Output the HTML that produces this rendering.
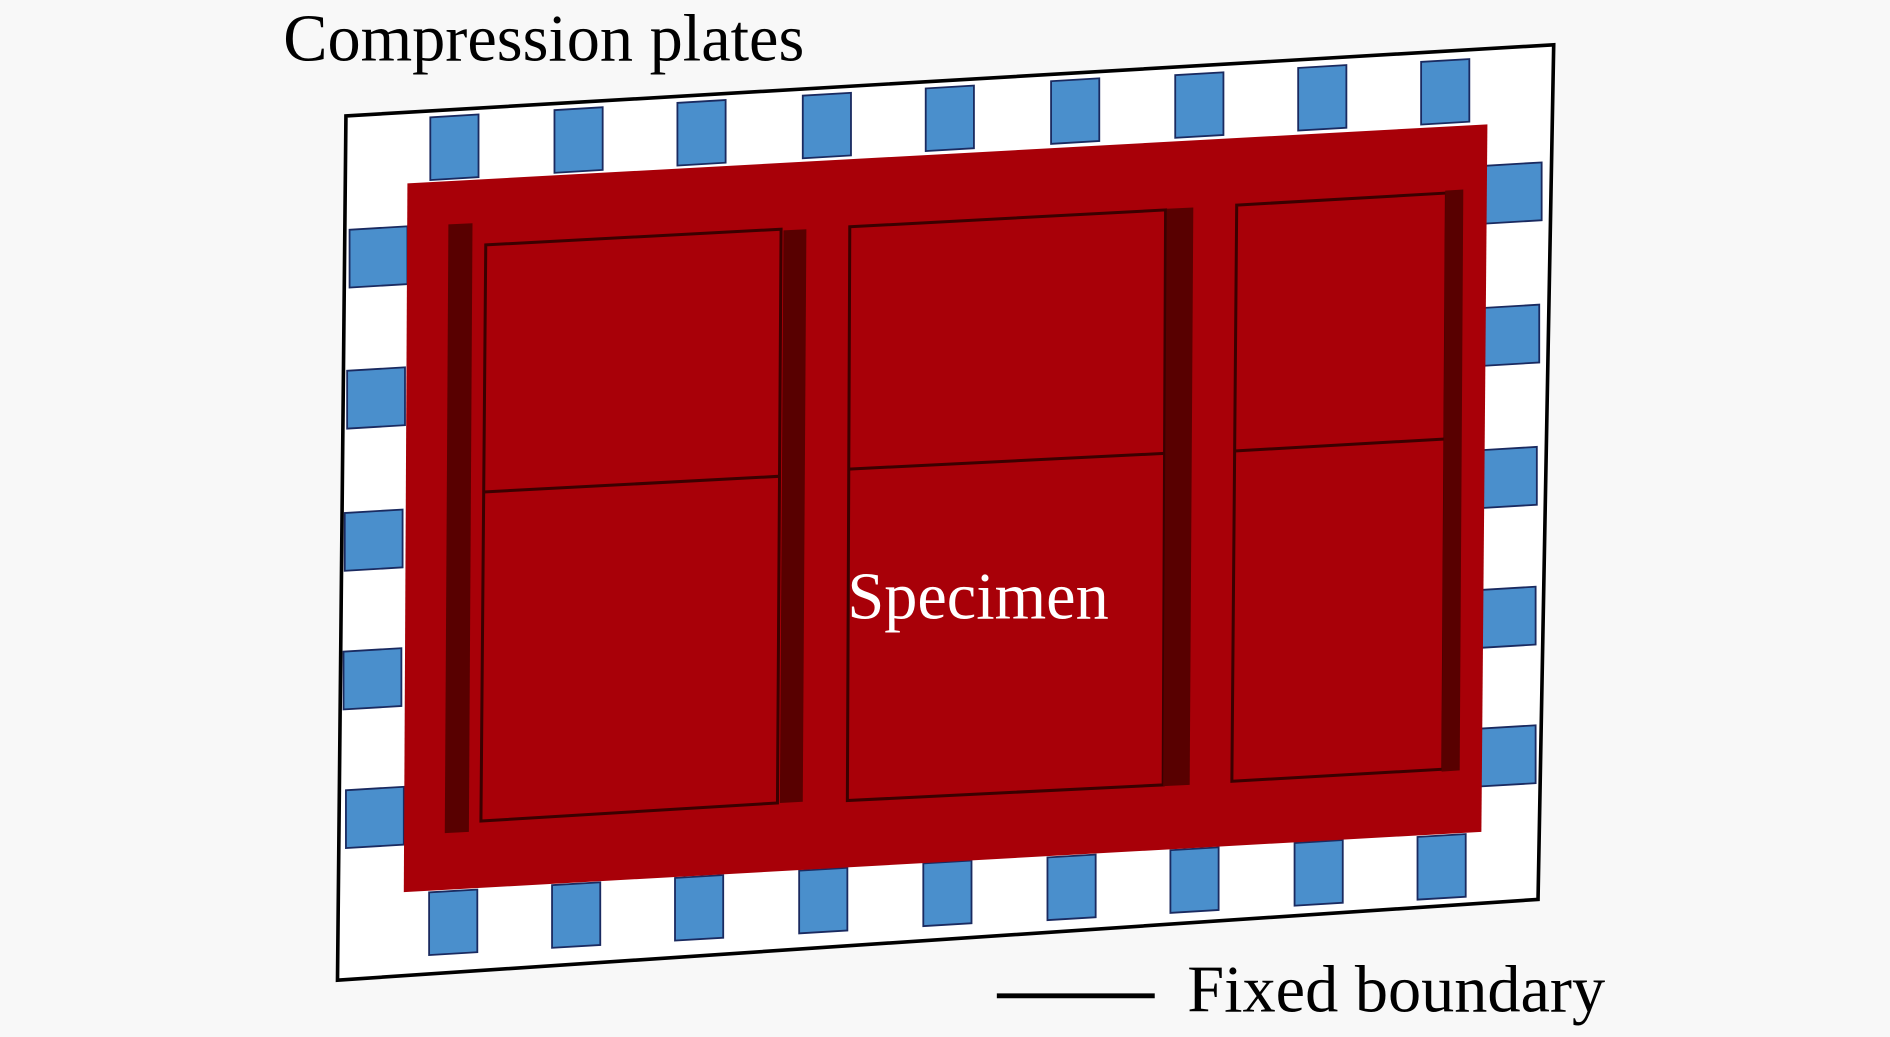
<!DOCTYPE html>
<html><head><style>html,body{margin:0;padding:0;background:#f8f8f8;}svg{display:block}</style></head>
<body>
<svg width="1890" height="1037" viewBox="0 0 1568 860" xmlns="http://www.w3.org/2000/svg">
<rect width="1568" height="860" fill="#f8f8f8"/>
<polygon points="287,96 1289,37 1276,746 280,813" fill="#fff" stroke="#000" stroke-width="3"/>
<g fill="#4a8fcc" stroke="#1a2a60" stroke-width="1.5">
<g transform="translate(377,122) skewY(-3.4)"><rect x="-20" y="-26" width="40" height="52"/></g>
<g transform="translate(480,116) skewY(-3.4)"><rect x="-20" y="-26" width="40" height="52"/></g>
<g transform="translate(582,110) skewY(-3.4)"><rect x="-20" y="-26" width="40" height="52"/></g>
<g transform="translate(686,104) skewY(-3.4)"><rect x="-20" y="-26" width="40" height="52"/></g>
<g transform="translate(788,98) skewY(-3.4)"><rect x="-20" y="-26" width="40" height="52"/></g>
<g transform="translate(892,92) skewY(-3.4)"><rect x="-20" y="-26" width="40" height="52"/></g>
<g transform="translate(995,87) skewY(-3.4)"><rect x="-20" y="-26" width="40" height="52"/></g>
<g transform="translate(1097,81) skewY(-3.4)"><rect x="-20" y="-26" width="40" height="52"/></g>
<g transform="translate(1199,76) skewY(-3.4)"><rect x="-20" y="-26" width="40" height="52"/></g>
<g transform="translate(376,765) skewY(-3.4)"><rect x="-20" y="-26" width="40" height="52"/></g>
<g transform="translate(478,759) skewY(-3.4)"><rect x="-20" y="-26" width="40" height="52"/></g>
<g transform="translate(580,753) skewY(-3.4)"><rect x="-20" y="-26" width="40" height="52"/></g>
<g transform="translate(683,747) skewY(-3.4)"><rect x="-20" y="-26" width="40" height="52"/></g>
<g transform="translate(786,741) skewY(-3.4)"><rect x="-20" y="-26" width="40" height="52"/></g>
<g transform="translate(889,736) skewY(-3.4)"><rect x="-20" y="-26" width="40" height="52"/></g>
<g transform="translate(991,730) skewY(-3.4)"><rect x="-20" y="-26" width="40" height="52"/></g>
<g transform="translate(1094,724) skewY(-3.4)"><rect x="-20" y="-26" width="40" height="52"/></g>
<g transform="translate(1196,719) skewY(-3.4)"><rect x="-20" y="-26" width="40" height="52"/></g>
<g transform="translate(314,213) skewY(-3.4)"><rect x="-24" y="-24" width="48" height="48"/></g>
<g transform="translate(312,330) skewY(-3.4)"><rect x="-24" y="-24" width="48" height="48"/></g>
<g transform="translate(310,448) skewY(-3.4)"><rect x="-24" y="-24" width="48" height="48"/></g>
<g transform="translate(309,563) skewY(-3.4)"><rect x="-24" y="-24" width="48" height="48"/></g>
<g transform="translate(311,678) skewY(-3.4)"><rect x="-24" y="-24" width="48" height="48"/></g>
<g transform="translate(1255,160) skewY(-3.4)"><rect x="-24" y="-24" width="48" height="48"/></g>
<g transform="translate(1253,278) skewY(-3.4)"><rect x="-24" y="-24" width="48" height="48"/></g>
<g transform="translate(1251,396) skewY(-3.4)"><rect x="-24" y="-24" width="48" height="48"/></g>
<g transform="translate(1250,512) skewY(-3.4)"><rect x="-24" y="-24" width="48" height="48"/></g>
<g transform="translate(1250,627) skewY(-3.4)"><rect x="-24" y="-24" width="48" height="48"/></g>
</g>
<polygon points="338,152 1234,103 1229,690 335,740" fill="#a80008"/>
<g fill="#a80008" stroke="#3a0000" stroke-width="2.5">
<polygon points="403,203 648,190 645,666 399,681"/>
<line x1="401" y1="408" x2="646" y2="395"/>
<polygon points="705,188 967,174 965,651 703,664"/>
<line x1="704" y1="389" x2="966" y2="376"/>
<polygon points="1026,170 1200,160 1197,638 1022,648"/>
<line x1="1024" y1="374" x2="1199" y2="364"/>
</g>
<g fill="#580000">
<polygon points="372,186 392,185 389,690 369,691"/>
<polygon points="650,191 669,190 666,665 647,666"/>
<polygon points="968,173 990,172 987,651 965,652"/>
<polygon points="1199,158 1214,157 1211,639 1196,640"/>
</g>
<text x="703" y="513" font-family="Liberation Serif, serif" font-size="55" fill="#fff">Specimen</text>
<text x="235" y="50" font-family="Liberation Serif, serif" font-size="55" fill="#000">Compression plates</text>
<line x1="827" y1="826" x2="958" y2="826" stroke="#000" stroke-width="4"/>
<text x="985" y="839" font-family="Liberation Serif, serif" font-size="55" fill="#000">Fixed boundary</text>
</svg>
</body></html>
